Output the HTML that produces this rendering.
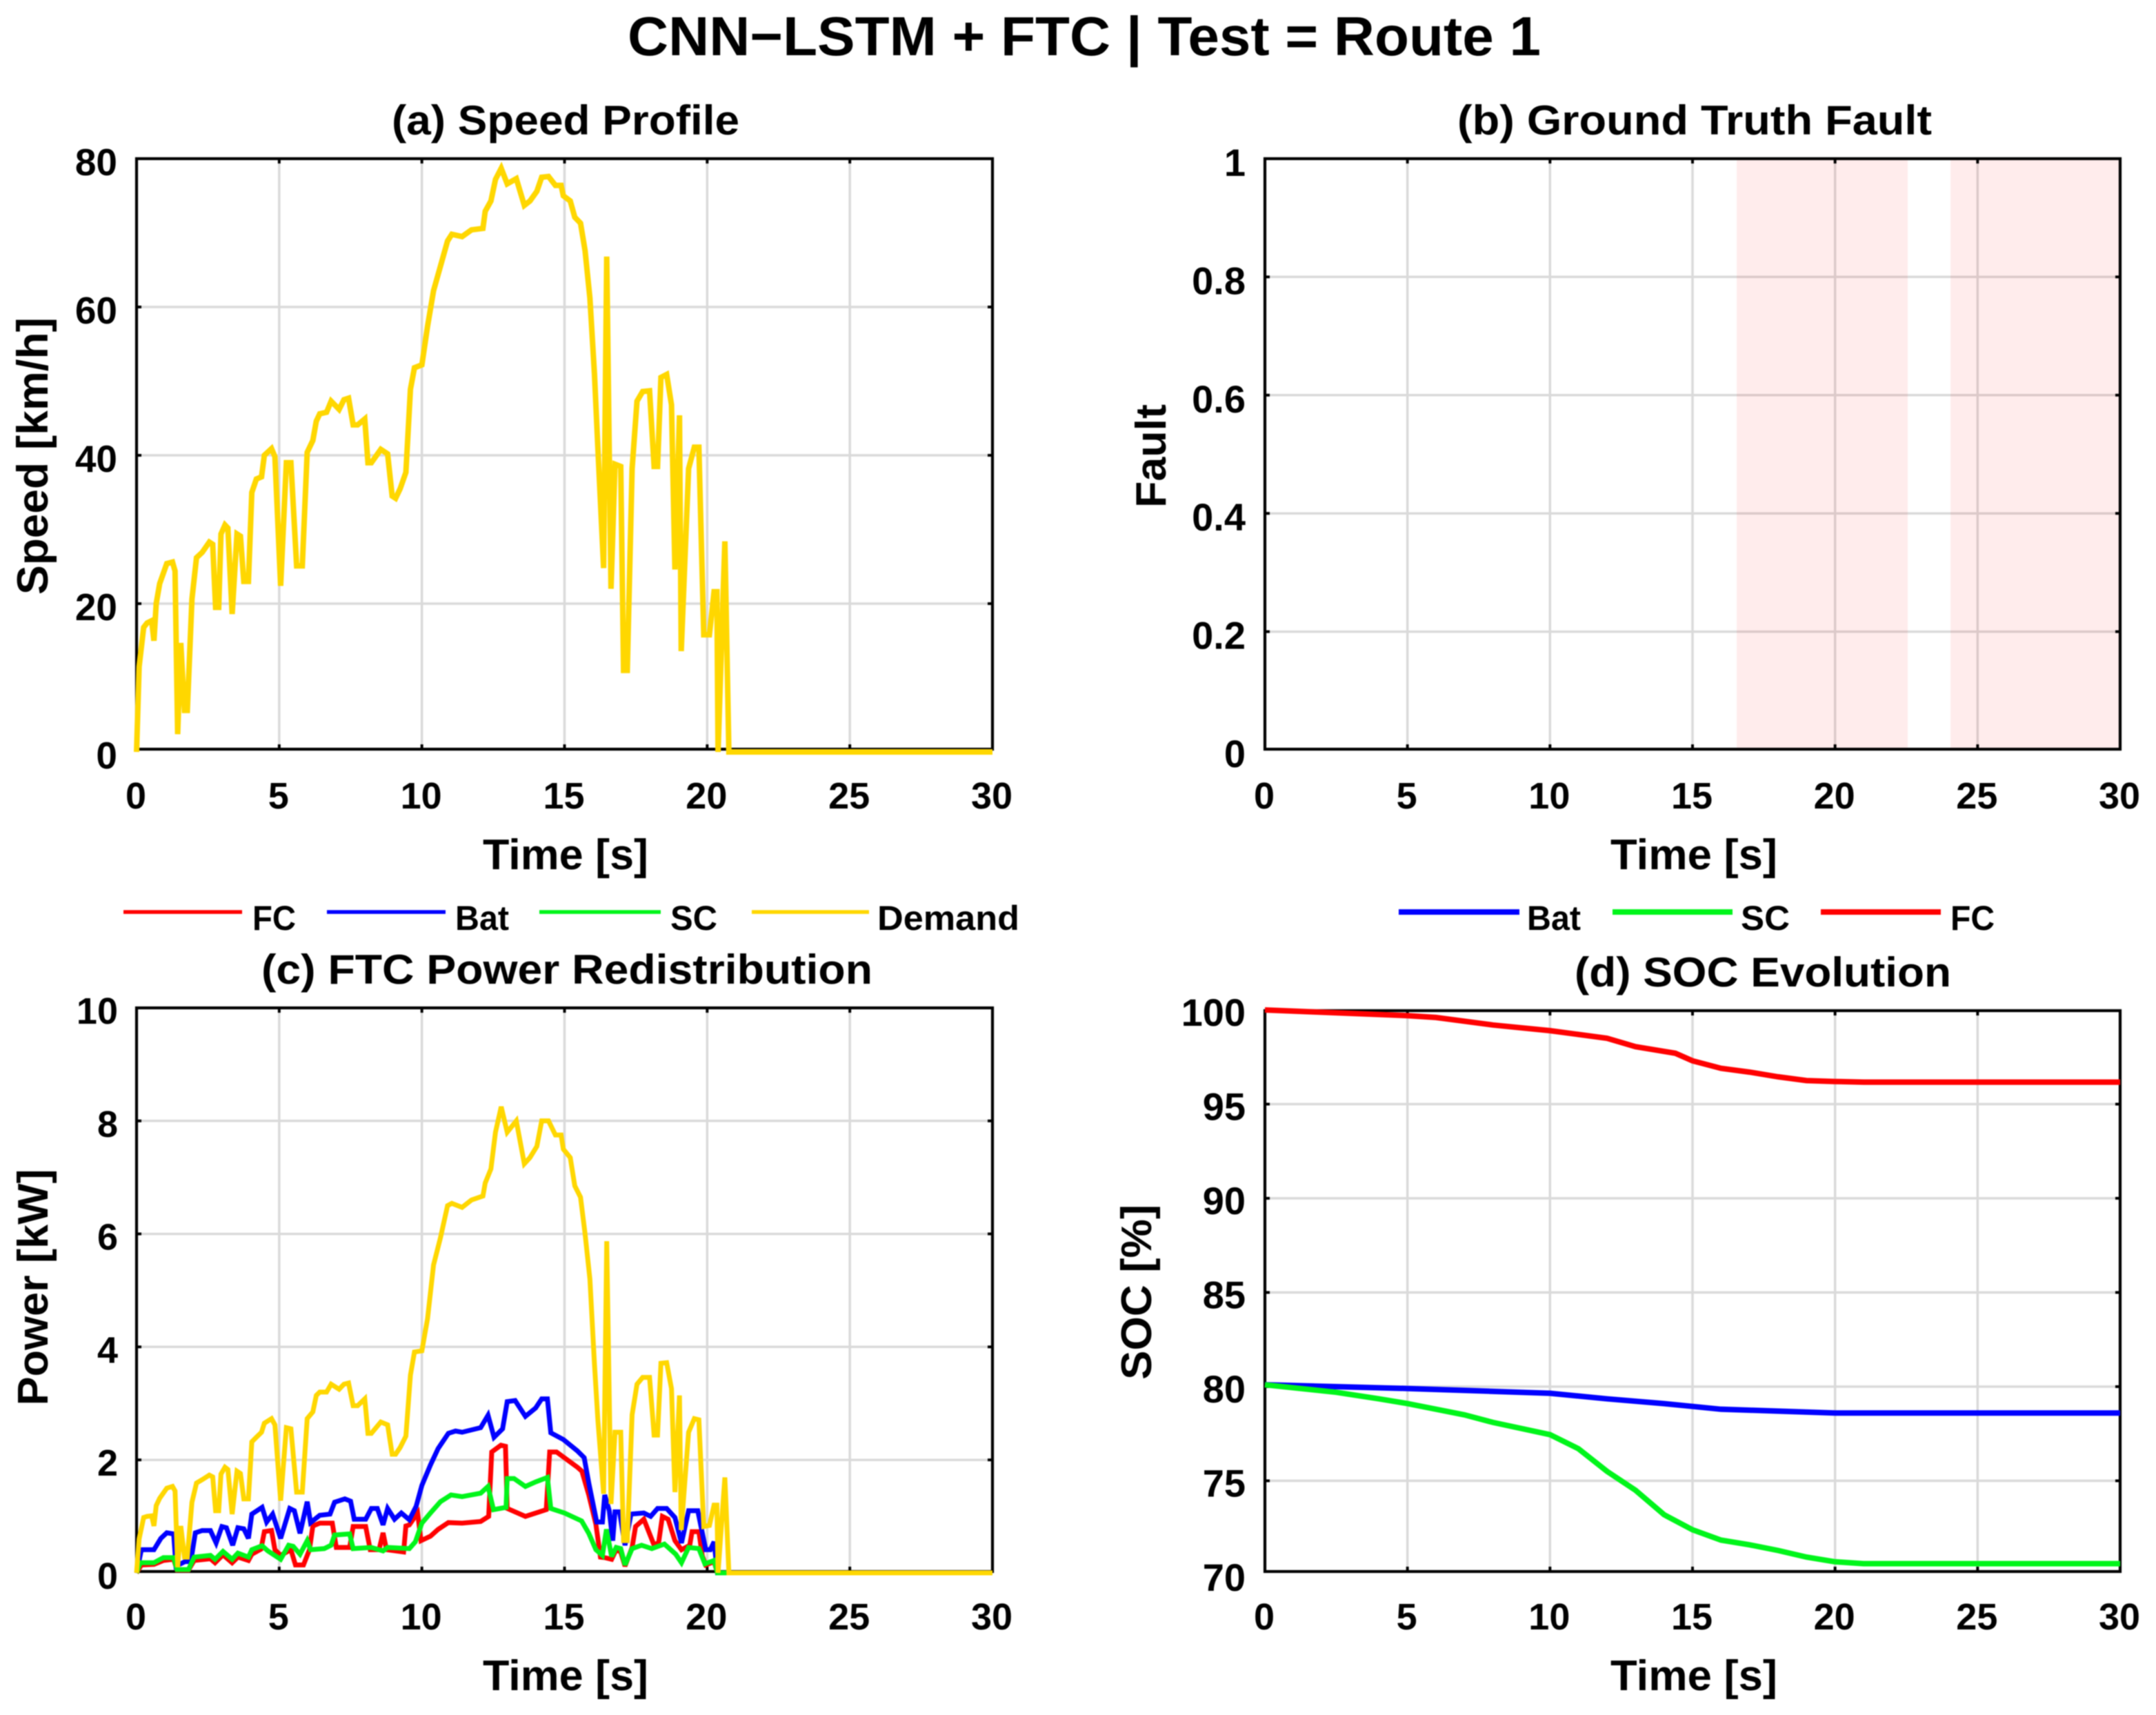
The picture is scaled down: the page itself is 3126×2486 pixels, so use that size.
<!DOCTYPE html>
<html lang="en">
<head>
<meta charset="utf-8">
<title>CNN-LSTM + FTC | Test = Route 1</title>
<style>
html,body{margin:0;padding:0;background:#fff;}
svg{display:block;filter:blur(0.8px);}
text{font-family:"Liberation Sans",Arial,sans-serif;font-weight:bold;fill:#000;}
</style>
</head>
<body>
<svg id="fig" xmlns="http://www.w3.org/2000/svg" width="3126" height="2486" viewBox="0 0 3126 2486">
<rect x="0" y="0" width="3126" height="2486" fill="#ffffff"/>
<text x="1572" y="80" font-size="80" text-anchor="middle" textLength="1324" lengthAdjust="spacingAndGlyphs">CNN−LSTM + FTC | Test = Route 1</text>

<text x="820" y="195" font-size="60" text-anchor="middle" textLength="504" lengthAdjust="spacingAndGlyphs">(a) Speed Profile</text>
<text x="2457" y="195" font-size="60" text-anchor="middle" textLength="688" lengthAdjust="spacingAndGlyphs">(b) Ground Truth Fault</text>
<text x="822" y="1426" font-size="60" text-anchor="middle" textLength="886" lengthAdjust="spacingAndGlyphs">(c) FTC Power Redistribution</text>
<text x="2556" y="1430" font-size="60" text-anchor="middle" textLength="546" lengthAdjust="spacingAndGlyphs">(d) SOC Evolution</text>

<text x="820" y="1260" font-size="62" text-anchor="middle" textLength="240" lengthAdjust="spacingAndGlyphs">Time [s]</text>
<text x="2456" y="1260" font-size="62" text-anchor="middle" textLength="242" lengthAdjust="spacingAndGlyphs">Time [s]</text>
<text x="820" y="2450" font-size="62" text-anchor="middle" textLength="240" lengthAdjust="spacingAndGlyphs">Time [s]</text>
<text x="2456" y="2450" font-size="62" text-anchor="middle" textLength="242" lengthAdjust="spacingAndGlyphs">Time [s]</text>

<text transform="translate(69,661) rotate(-90)" font-size="63" text-anchor="middle" textLength="402" lengthAdjust="spacingAndGlyphs">Speed [km/h]</text>
<text transform="translate(1690,661) rotate(-90)" font-size="62" text-anchor="middle" textLength="150" lengthAdjust="spacingAndGlyphs">Fault</text>
<text transform="translate(69,1866) rotate(-90)" font-size="62" text-anchor="middle" textLength="343" lengthAdjust="spacingAndGlyphs">Power [kW]</text>
<text transform="translate(1669,1873) rotate(-90)" font-size="62" text-anchor="middle" textLength="254" lengthAdjust="spacingAndGlyphs">SOC [%]</text>

<g>
<line x1="179" y1="1322" x2="351" y2="1322" stroke="#ff0000" stroke-width="5.5"/>
<text x="366" y="1348" font-size="50" textLength="63" lengthAdjust="spacingAndGlyphs">FC</text>
<line x1="474" y1="1322" x2="646" y2="1322" stroke="#0000ff" stroke-width="5.5"/>
<text x="660" y="1348" font-size="50" textLength="78" lengthAdjust="spacingAndGlyphs">Bat</text>
<line x1="782" y1="1322" x2="958" y2="1322" stroke="#00f51a" stroke-width="5.5"/>
<text x="972" y="1348" font-size="50" textLength="68" lengthAdjust="spacingAndGlyphs">SC</text>
<line x1="1090" y1="1322" x2="1260" y2="1322" stroke="#ffd700" stroke-width="5.5"/>
<text x="1272" y="1348" font-size="50" textLength="206" lengthAdjust="spacingAndGlyphs">Demand</text>
</g>

<g>
<line x1="2028" y1="1322" x2="2203" y2="1322" stroke="#0000ff" stroke-width="8"/>
<text x="2214" y="1348" font-size="50" textLength="78" lengthAdjust="spacingAndGlyphs">Bat</text>
<line x1="2338" y1="1322" x2="2512" y2="1322" stroke="#00f51a" stroke-width="8"/>
<text x="2524" y="1348" font-size="50" textLength="71" lengthAdjust="spacingAndGlyphs">SC</text>
<line x1="2640" y1="1322" x2="2814" y2="1322" stroke="#ff0000" stroke-width="8"/>
<text x="2828" y="1348" font-size="50" textLength="64" lengthAdjust="spacingAndGlyphs">FC</text>
</g>
</svg>

<script>
// ---- shared axis ticks ----
const timeTicks = [0, 5, 10, 15, 20, 25, 30];
const speedTicks = [0, 20, 40, 60, 80];
const faultTicks = [0, 0.2, 0.4, 0.6, 0.8, 1];
const powerTicks = [0, 2, 4, 6, 8, 10];
const socTicks = [70, 75, 80, 85, 90, 95, 100];

// ---- drive cycle samples (time [s], speed [km/h], demand [kW]) ----
const cycleTime = [0,0.09,0.25,0.37,0.53,0.61,0.69,0.81,1.06,1.26,1.35,1.44,1.55,1.68,1.78,1.94,2.1,2.3,2.55,2.67,2.77,2.88,2.96,3.1,3.2,3.35,3.52,3.64,3.76,3.92,4.04,4.2,4.38,4.48,4.73,4.85,5.05,5.25,5.41,5.61,5.81,5.98,6.18,6.3,6.42,6.66,6.82,7.1,7.27,7.43,7.59,7.75,8,8.11,8.23,8.56,8.8,8.96,9.08,9.24,9.44,9.6,9.74,10,10.2,10.41,10.65,10.9,11.05,11.41,11.74,12.14,12.22,12.42,12.58,12.78,12.99,13.31,13.59,13.79,14.03,14.2,14.44,14.68,14.88,14.96,15.2,15.36,15.56,15.72,15.89,16.05,16.17,16.37,16.48,16.63,16.77,16.97,17.07,17.2,17.37,17.54,17.74,17.98,18.14,18.26,18.38,18.58,18.75,18.87,19.03,19.09,19.35,19.55,19.71,19.88,20.08,20.24,20.34,20.38,20.62,20.76,30];
const speedKmh = [0,11.5,16.8,17.4,17.7,15,20,22.7,25.4,25.6,24.4,2.4,14.7,5.6,5.6,20.6,26.2,26.9,28.3,28,19.5,19.5,29.4,30.6,30.2,18.6,29.4,29.1,23,23,35,36.8,37.1,40,40.9,39.8,22.4,39,39,25.1,25.1,40.4,42,44.6,45.6,45.8,47.3,46.2,47.5,47.7,44.1,44.1,44.9,39,39,40.8,40.2,34.5,34.2,35.5,37.7,48.9,51.8,52.2,57.4,62.2,65.5,68.9,69.8,69.5,70.4,70.6,72.9,74.3,77.2,78.7,76.6,77.3,73.7,74.3,75.6,77.5,77.6,76.4,76.4,75,74.3,72.1,71.3,67.6,61.2,51,40.9,24.8,66.8,22,38.8,38.5,11,11,38.2,47.3,48.6,48.7,38.5,38.5,50.5,50.9,46.8,24.6,45.4,13.6,38.2,41.1,41.1,15.8,15.8,21.6,21.6,0,28.4,0,0];
const demandKw = [0,0.6,0.98,1,1.01,0.83,1.19,1.32,1.5,1.53,1.45,0.1,0.83,0.28,0.28,1.25,1.59,1.65,1.73,1.7,1.1,1.1,1.75,1.87,1.83,1.04,1.8,1.76,1.31,1.31,2.32,2.4,2.49,2.65,2.73,2.62,1.28,2.57,2.55,1.43,1.43,2.73,2.85,3.14,3.2,3.2,3.34,3.25,3.34,3.36,2.96,2.96,3.08,2.47,2.47,2.67,2.62,2.1,2.1,2.22,2.42,3.5,3.91,3.93,4.5,5.45,5.93,6.5,6.54,6.47,6.6,6.67,6.9,7.15,7.8,8.25,7.8,8,7.24,7.35,7.55,8,8,7.75,7.75,7.5,7.35,6.85,6.65,6,5.2,3.7,2.7,1.4,5.87,1.22,2.49,2.49,0.57,0.57,2.8,3.34,3.46,3.46,2.44,2.44,3.71,3.72,3.26,1.43,3.14,0.76,2.49,2.73,2.71,0.82,0.84,1.2,1.2,0,1.69,0,0];

// ---- power split series ----
const batTime = [0,0.17,0.61,0.85,1.06,1.3,1.38,1.7,1.9,2.06,2.3,2.59,2.79,2.99,3.15,3.37,3.55,3.76,3.92,4.04,4.4,4.56,4.77,5.05,5.37,5.53,5.73,5.98,6.1,6.42,6.78,6.94,7.3,7.5,7.63,8.03,8.23,8.44,8.64,8.8,9.04,9.28,9.56,9.8,10,10.3,10.57,10.93,11.18,11.41,12.06,12.32,12.53,12.83,12.99,13.27,13.63,13.99,14.2,14.4,14.52,14.96,15.45,15.69,15.85,16.13,16.33,16.41,16.57,16.69,16.77,16.93,17.12,17.33,17.78,18.02,18.26,18.58,18.87,19.1,19.35,19.67,19.95,20.11,20.24,20.36,30];
const batKw = [0,0.41,0.41,0.61,0.71,0.69,0.12,0.2,0.2,0.71,0.75,0.75,0.53,0.82,0.8,0.49,0.8,0.78,0.61,1.04,1.16,0.9,1.04,0.61,1.14,1.1,0.7,1.26,0.89,1.02,1.04,1.25,1.31,1.27,0.95,0.95,1.14,1.14,0.85,1.14,0.95,1.06,0.94,1.18,1.55,1.91,2.2,2.47,2.51,2.49,2.57,2.79,2.4,2.55,3.03,3.05,2.77,2.92,3.08,3.08,2.48,2.36,2.16,2.04,1.59,0.9,0.9,1.38,1.1,0.57,1.08,1.08,0.49,1.04,1.06,1,1.14,1.14,0.98,0.53,1.1,1.1,0.41,0.41,0.55,0,0];
const scTime = [0,0.13,0.61,0.94,1.3,1.42,1.82,2.02,2.59,2.75,3.03,3.35,3.55,3.92,4.04,4.4,4.6,5.05,5.33,5.49,5.73,5.98,6.1,6.58,6.82,6.94,7.47,7.59,8.23,8.64,8.8,9.56,9.77,10,10.3,10.65,11.02,11.41,12.06,12.32,12.51,12.95,12.99,13.23,13.63,13.99,14.4,14.52,15,15.6,15.85,16.1,16.33,16.47,16.65,16.81,16.97,17.12,17.37,17.7,18.06,18.5,18.9,19.1,19.35,19.71,19.92,20.24,20.36,30];
const scKw = [0,0.18,0.18,0.27,0.27,0.06,0.06,0.28,0.31,0.24,0.38,0.24,0.35,0.28,0.41,0.48,0.39,0.24,0.49,0.47,0.33,0.57,0.41,0.43,0.49,0.67,0.69,0.43,0.45,0.39,0.45,0.43,0.55,0.88,1.06,1.26,1.38,1.35,1.41,1.53,1.12,1.16,1.67,1.67,1.53,1.61,1.69,1.14,1.06,0.92,0.7,0.41,0.31,0.77,0.29,0.45,0.43,0.14,0.43,0.49,0.43,0.51,0.33,0.18,0.45,0.43,0.16,0.22,0,0];
const fcTime = [0,0.17,0.61,0.94,1.3,1.42,1.82,2.02,2.59,2.75,3.03,3.35,3.55,3.92,4.04,4.36,4.48,4.73,4.85,5.05,5.41,5.57,5.85,6.06,6.18,6.42,6.86,7,7.47,7.59,8.03,8.19,8.5,8.64,8.76,9.36,9.44,9.56,9.85,9.97,10.3,10.57,10.93,11.41,12.06,12.34,12.45,12.77,12.93,12.99,13.63,14.36,14.48,14.72,15.45,15.61,15.85,16.1,16.26,16.41,16.65,16.81,16.97,17.12,17.37,17.49,17.78,18.14,18.3,18.43,18.63,18.87,19.1,19.39,19.47,19.71,19.83,19.95,20.24,20.36,30];
const fcKw = [0,0.14,0.15,0.22,0.24,0.05,0.05,0.22,0.25,0.18,0.32,0.18,0.28,0.22,0.33,0.42,0.73,0.75,0.41,0.31,0.41,0.14,0.14,0.41,0.83,0.88,0.88,0.45,0.45,0.82,0.82,0.41,0.41,0.71,0.41,0.37,0.83,0.85,1.06,0.57,0.65,0.77,0.89,0.88,0.91,1,2.14,2.26,2.24,1.14,1,1.12,2.14,2.14,1.87,1.8,1.38,0.86,0.28,0.27,0.24,0.41,0.37,0.12,0.45,0.82,0.95,0.49,0.54,1,0.95,0.57,0.41,0.49,0.73,0.73,0.3,0.14,0.2,0,0];

// ---- state of charge series ----
const socFcTime = [0,5,6,8,10,12,13,14.4,15,16,17,18,19,20,21,30];
const socFc = [100,99.7,99.6,99.2,98.9,98.5,98.05,97.7,97.3,96.9,96.7,96.45,96.25,96.2,96.17,96.17];
const socBatTime = [0,5,10,12,14,15,16,18,20,30];
const socBat = [80.1,79.9,79.65,79.35,79.1,78.95,78.8,78.7,78.6,78.6];
const socScTime = [0,2.5,4,5,7,8,10,11,12,13,14,15,16,17,18,19,20,21,30];
const socSc = [80.1,79.7,79.35,79.1,78.5,78.1,77.45,76.7,75.5,74.5,73.2,72.4,71.85,71.6,71.3,70.95,70.7,70.6,70.6];

// ---- fault intervals (time [s]) ----
const faultStart = [16.55, 24.05];
const faultEnd = [22.55, 30];

// ---- colours ----
const RED = '#ff0000', BLUE = '#0000ff', GREEN = '#00f51a', GOLD = '#ffd700';

const NS = 'http://www.w3.org/2000/svg';
const fig = document.getElementById('fig');

function make(tag, parent, attrs, name) {
  const el = document.createElementNS(NS, tag);
  for (const k in attrs) el.setAttribute(k, attrs[k]);
  
  
  parent.appendChild(el);
  return el;
}

function linearScale(v0, p0, v1, p1) {
  return function (v) { return p0 + (v - v0) * (p1 - p0) / (v1 - v0); };
}

function drawPanel(cfg) {
  const g = make('g', fig, {}, cfg.id + '-panel');
  const X = linearScale(0, cfg.x0, 30, cfg.x1);
  const Y = linearScale(cfg.v0, cfg.y0, cfg.v1, cfg.y1);

  // grid lines
  cfg.xTicks.forEach(function (t) {
    if (t === 0 || t === 30) return;
    make('line', g, {x1: X(t), x2: X(t), y1: cfg.top, y2: cfg.bottom, stroke: '#dadada', 'stroke-width': 3.5}, cfg.id + '-grid-x-' + t);
  });
  cfg.yTicks.forEach(function (v, i) {
    if (i === 0 || i === cfg.yTicks.length - 1) return;
    make('line', g, {x1: cfg.x0, x2: cfg.x1, y1: Y(v), y2: Y(v), stroke: '#dadada', 'stroke-width': 3.5}, cfg.id + '-grid-y-' + v);
  });

  // shaded intervals
  if (cfg.spans) {
    cfg.spans.start.forEach(function (s, i) {
      make('rect', g, {x: X(s), y: cfg.top, width: X(cfg.spans.end[i]) - X(s), height: cfg.bottom - cfg.top, fill: '#ff0000', 'fill-opacity': 0.075}, cfg.id + '-fault-interval-' + (i + 1));
    });
  }

  // inward tick marks
  cfg.xTicks.forEach(function (t) {
    if (t === 0 || t === 30) return;
    make('line', g, {x1: X(t), x2: X(t), y1: cfg.top, y2: cfg.top + 7, stroke: '#000', 'stroke-width': 4}, cfg.id + '-x-tick-top-' + t);
    make('line', g, {x1: X(t), x2: X(t), y1: cfg.bottom, y2: cfg.bottom - 7, stroke: '#000', 'stroke-width': 4}, cfg.id + '-x-tick-bottom-' + t);
  });
  cfg.yTicks.forEach(function (v, i) {
    if (i === 0 || i === cfg.yTicks.length - 1) return;
    make('line', g, {x1: cfg.x0, x2: cfg.x0 + 7, y1: Y(v), y2: Y(v), stroke: '#000', 'stroke-width': 4}, cfg.id + '-y-tick-left-' + v);
    make('line', g, {x1: cfg.x1, x2: cfg.x1 - 7, y1: Y(v), y2: Y(v), stroke: '#000', 'stroke-width': 4}, cfg.id + '-y-tick-right-' + v);
  });

  // axes box
  make('rect', g, {x: cfg.x0, y: cfg.top, width: cfg.x1 - cfg.x0, height: cfg.bottom - cfg.top, fill: 'none', stroke: '#000', 'stroke-width': 4.2}, cfg.id + '-axes-box');

  // tick labels
  cfg.xTicks.forEach(function (t) {
    const el = make('text', g, {x: X(t) - 1, y: cfg.xLabelY, 'font-size': 54, 'text-anchor': 'middle'}, cfg.id + '-x-tick-label-' + t);
    el.textContent = String(t);
  });
  cfg.yTicks.forEach(function (v) {
    const el = make('text', g, {x: cfg.x0 - cfg.yLabelGap, y: Y(v) + cfg.yLabelDy, 'font-size': cfg.yLabelSize, 'text-anchor': 'end'}, cfg.id + '-y-tick-label-' + v);
    el.textContent = String(v);
  });

  // series
  (cfg.series || []).forEach(function (s) {
    const d = s.t.map(function (t, i) { return (i ? 'L' : 'M') + X(t).toFixed(1) + ' ' + Y(s.v[i]).toFixed(1); }).join(' ');
    make('path', g, {d: d, fill: 'none', stroke: s.color, 'stroke-width': s.width, 'stroke-linejoin': 'miter', 'stroke-miterlimit': 3}, cfg.id + '-line-' + s.name);
  });
}

drawPanel({
  id: 'speed', x0: 198, x1: 1439, top: 230, bottom: 1086,
  v0: 0, y0: 1090, v1: 80, y1: 230, xLabelY: 1172, yLabelDy: 24, yLabelGap: 28, yLabelSize: 55,
  xTicks: timeTicks, yTicks: speedTicks,
  series: [{name: 'speed', t: cycleTime, v: speedKmh, color: GOLD, width: 8}]
});
drawPanel({
  id: 'fault', x0: 1834, x1: 3074, top: 230, bottom: 1086,
  v0: 0, y0: 1087, v1: 1, y1: 230, xLabelY: 1172, yLabelDy: 25, yLabelGap: 28, yLabelSize: 56,
  xTicks: timeTicks, yTicks: faultTicks,
  spans: {start: faultStart, end: faultEnd}
});
drawPanel({
  id: 'power', x0: 198, x1: 1439, top: 1461, bottom: 2278,
  v0: 0, y0: 2280, v1: 10, y1: 1461, xLabelY: 2362, yLabelDy: 23, yLabelGap: 27, yLabelSize: 54,
  xTicks: timeTicks, yTicks: powerTicks,
  series: [
    {name: 'fc', t: fcTime, v: fcKw, color: RED, width: 7},
    {name: 'bat', t: batTime, v: batKw, color: BLUE, width: 7},
    {name: 'sc', t: scTime, v: scKw, color: GREEN, width: 7},
    {name: 'demand', t: cycleTime, v: demandKw, color: GOLD, width: 7}
  ]
});
drawPanel({
  id: 'soc', x0: 1834, x1: 3074, top: 1465, bottom: 2278,
  v0: 70, y0: 2283, v1: 100, y1: 1464, xLabelY: 2362, yLabelDy: 23, yLabelGap: 28, yLabelSize: 56,
  xTicks: timeTicks, yTicks: socTicks,
  series: [
    {name: 'bat', t: socBatTime, v: socBat, color: BLUE, width: 8},
    {name: 'sc', t: socScTime, v: socSc, color: GREEN, width: 8},
    {name: 'fc', t: socFcTime, v: socFc, color: RED, width: 8}
  ]
});
</script>
</body>
</html>
